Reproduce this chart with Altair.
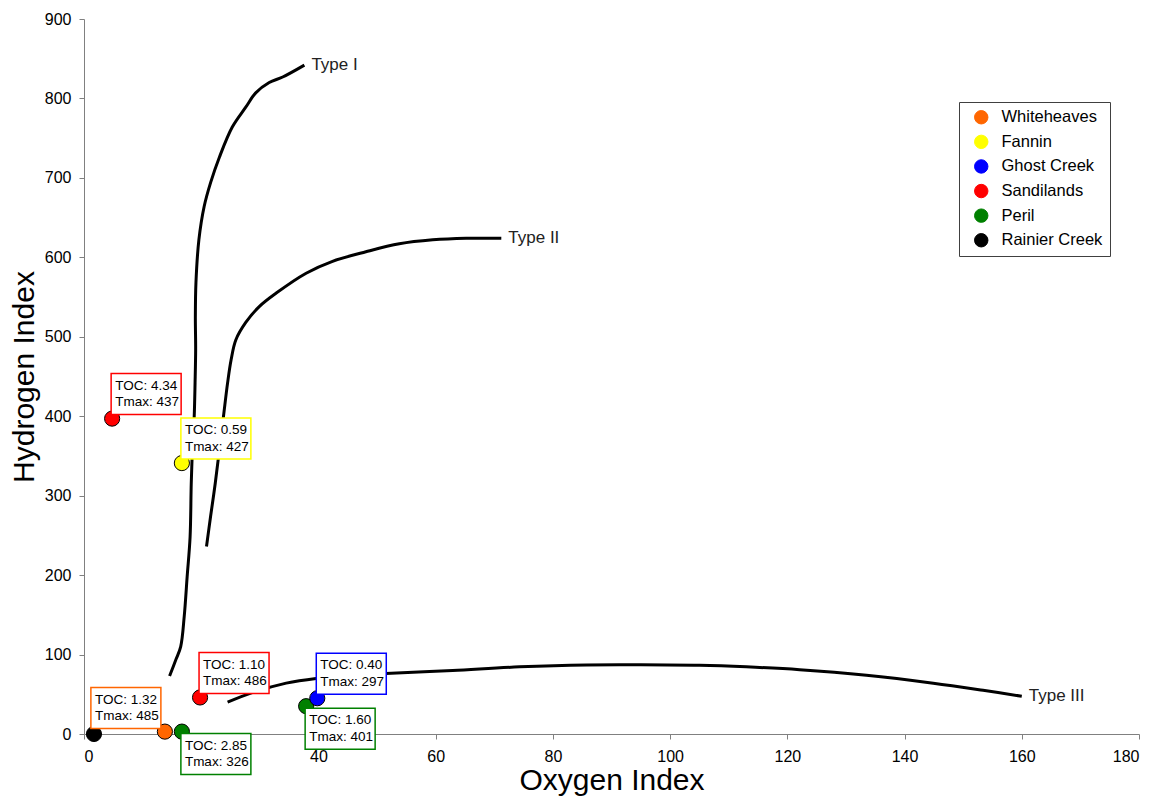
import altair as alt
import pandas as pd

FONT = "Liberation Sans"

# ---- legend / sites ----
sites = ["Whiteheaves", "Fannin", "Ghost Creek", "Sandilands", "Peril", "Rainier Creek"]
site_colors = ["#FF6600", "#FFFF00", "#0000FF", "#FF0000", "#008000", "#000000"]

# ---- samples (Oxygen Index, Hydrogen Index) ----
sample_site = ["Rainier Creek", "Whiteheaves", "Peril", "Fannin", "Sandilands", "Sandilands", "Peril", "Ghost Creek"]
sample_oi = [1.7, 13.8, 16.7, 16.7, 4.8, 19.8, 37.9, 39.8]
sample_hi = [0, 3, 3, 341, 397, 46, 35, 45]
sample_toc = ["", "1.32", "2.85", "0.59", "4.34", "1.10", "1.60", "0.40"]
sample_tmax = ["", "485", "326", "427", "437", "486", "401", "297"]
label_side = ["", "nw", "se", "ne", "ne", "ne", "se", "ne"]

# ---- kerogen type curves ----
type1_oi = [14.6, 15.7, 16.5, 17.1, 17.6, 18.1, 18.3, 18.5, 18.8, 18.95, 19.05, 19.0, 19.1, 19.6, 20.5, 21.6, 23.1, 25.3, 27.6, 29.3, 31.6, 33.9, 37.6]
type1_hi = [73, 94, 110, 148, 198, 248, 316, 358, 399, 442, 484, 525, 568, 622, 664, 694, 726, 764, 789, 807, 820, 827, 842]
type2_oi = [20.9, 21.6, 22.4, 23.1, 23.8, 24.5, 25.1, 25.9, 27.6, 29.9, 32.8, 37.9, 42.4, 48.1, 53.8, 59.5, 65.2, 71.2]
type2_hi = [236, 274, 316, 358, 400, 442, 471, 496, 518, 538, 555, 580, 595, 607, 617, 622, 624, 624]
type3_oi = [24.5, 28.7, 34.5, 39.6, 45.8, 51.5, 62.9, 74.3, 85.7, 95.0, 105.0, 113.0, 122.1, 133.5, 144.9, 153.4, 160.0]
type3_hi = [40, 52, 64, 70, 74, 76, 80, 84.5, 87, 87.2, 86.5, 84.5, 81, 74, 64, 55, 47.5]
curve_names = ["Type I", "Type II", "Type III"]

x_ticks = list(range(0, 181, 20))
y_ticks = list(range(0, 901, 100))

# ---- tables ----
rows = []
for name, xs, ys in zip(curve_names, [type1_oi, type2_oi, type3_oi], [type1_hi, type2_hi, type3_hi]):
    for i, (a, b) in enumerate(zip(xs, ys)):
        rows.append({"curve": name, "oi": a, "hi": b, "ord": i})
curves = pd.DataFrame(rows)
curve_ends = curves.sort_values("ord").groupby("curve").tail(1)

samples = pd.DataFrame({
    "site": sample_site, "oi": sample_oi, "hi": sample_hi,
    "label": [f"TOC: {t}\nTmax: {m}" if t else "" for t, m in zip(sample_toc, sample_tmax)],
    "side": label_side,
})
labelled = samples[samples["side"] != ""]

xs = alt.Scale(domain=[0, 180], nice=False, zero=True)
ys = alt.Scale(domain=[0, 900], nice=False, zero=True)
cscale = alt.Scale(domain=sites, range=site_colors)

X = alt.X("oi:Q", scale=xs, axis=alt.Axis(values=x_ticks, title="Oxygen Index", labelPadding=9, titlePadding=1))
Y = alt.Y("hi:Q", scale=ys, axis=alt.Axis(values=y_ticks, title="Hydrogen Index", labelPadding=8, titlePadding=5))

lines = alt.Chart(curves).mark_line(color="black", strokeWidth=3, interpolate="catmull-rom").encode(
    x=X, y=Y, detail="curve:N", order="ord:Q")

curve_text = alt.Chart(curve_ends).mark_text(
    align="left", baseline="middle", dx=7, fontSize=17, font=FONT, color="#222222"
).encode(x="oi:Q", y="hi:Q", text="curve:N")

points = alt.Chart(samples).mark_circle(size=230, opacity=1, stroke="black", strokeWidth=1).encode(
    x="oi:Q", y="hi:Q",
    color=alt.Color("site:N", scale=cscale, sort=sites, legend=alt.Legend(
        title=None, orient="none", legendX=875, legendY=83, fillColor="white",
        strokeColor="#404040", padding=7, symbolOffset=7, symbolType="circle",
        symbolSize=180, symbolStrokeColor="black", symbolStrokeWidth=1,
        labelFontSize=16.5, labelFont=FONT, labelColor="black", rowPadding=6.6,
        labelOffset=12, cornerRadius=0)),
)

# label box geometry (pixels, relative to the marker centre)
box_geom = {
    "ne": dict(x0=-1, x1=69, y0=-45, y1=-4),
    "se": dict(x0=-1, x1=69, y0=2, y1=43),
    "nw": dict(x0=-74, x1=-4, y0=-44, y1=-3),
}
LINE_H = 16.7

label_layers = []
for side, g in box_geom.items():
    base = alt.Chart(labelled).transform_filter(alt.datum.side == side)
    rect = base.mark_rect(
        fill="white", strokeWidth=1.5,
        xOffset=g["x0"], x2Offset=g["x1"], yOffset=g["y0"], y2Offset=g["y1"],
    ).encode(
        x="oi:Q", x2="oi:Q", y="hi:Q", y2="hi:Q",
        stroke=alt.Stroke("site:N", scale=cscale, legend=None),
    )
    txt = base.mark_text(
        align="left", baseline="middle", lineBreak="\n", lineHeight=LINE_H,
        fontSize=13.5, font=FONT, color="black",
        dx=g["x0"] + 4, dy=(g["y0"] + g["y1"]) / 2 - LINE_H / 2,
    ).encode(x="oi:Q", y="hi:Q", text="label:N")
    label_layers += [rect, txt]

chart = alt.layer(lines, curve_text, points, *label_layers).resolve_scale(
    color="shared"
).properties(
    width=1055, height=715,
    autosize=alt.AutoSizeParams(type="none"),
    padding={"left": 76, "top": 11, "right": 16, "bottom": 64},
).configure_view(stroke=None).configure_axis(
    grid=False, domainColor="#808080", tickColor="#808080", tickSize=5,
    labelFont=FONT, labelFontSize=16, labelColor="black",
    titleFont=FONT, titleFontSize=30, titleFontWeight="normal", titleColor="black",
)

chart.save("out.html", embed_options={"renderer": "svg", "actions": False})
